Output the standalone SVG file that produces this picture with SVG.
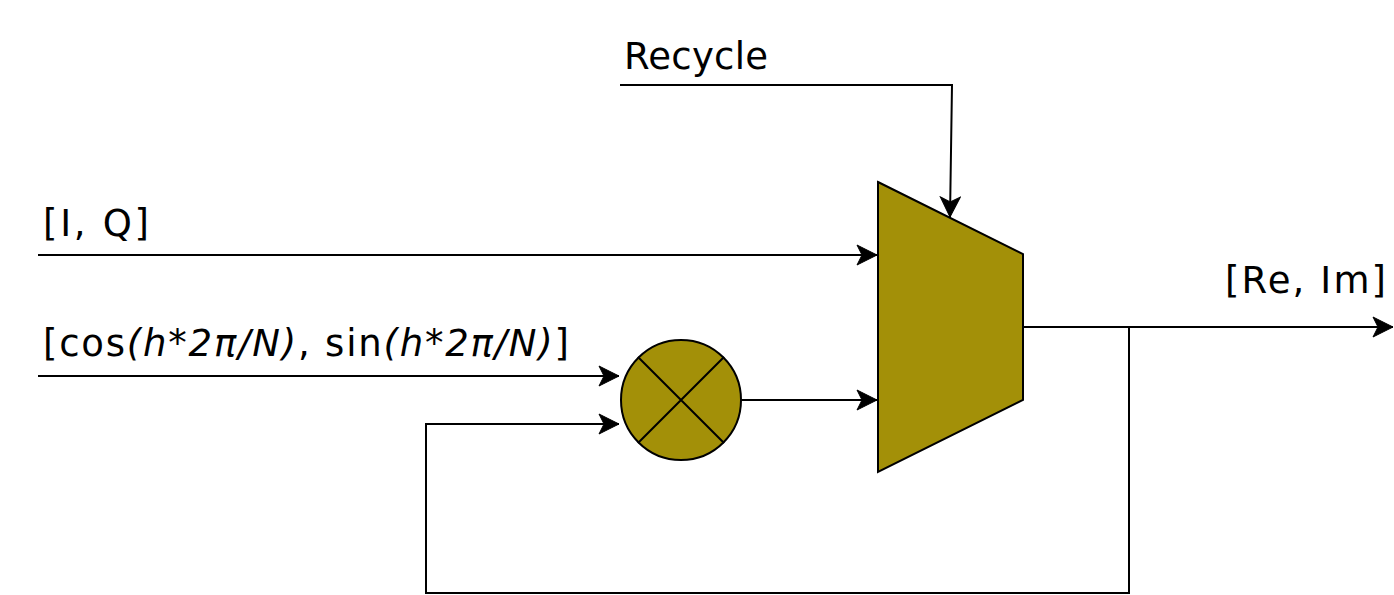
<svg xmlns="http://www.w3.org/2000/svg" width="1394" height="595" viewBox="0 0 1394 595">
<style>
.lbl{font-family:"DejaVu Sans",Verdana,sans-serif;font-size:37px;fill:#000}
.it{font-style:italic}
.wire{fill:none;stroke:#000;stroke-width:2}
.blk{fill:#a39008;stroke:#000;stroke-width:2}
</style>
<defs>
<marker id="arr" viewBox="0 0 22 22" refX="21" refY="11" markerWidth="22" markerHeight="22" markerUnits="userSpaceOnUse" orient="auto">
<path d="M1,1 L21,11 L1,21 L6,11 Z" fill="#000" stroke="#000" stroke-width="1"/>
</marker>
</defs>
<rect width="1394" height="595" fill="#fff"/>
<g id="connectors">
<path class="wire" d="M620,85 H952 L950,217" marker-end="url(#arr)"/>
<path class="wire" d="M38,255 H877" marker-end="url(#arr)"/>
<path class="wire" d="M38,376 H619" marker-end="url(#arr)"/>
<path class="wire" d="M741,400 H877" marker-end="url(#arr)"/>
<path class="wire" d="M1023,327 H1393" marker-end="url(#arr)"/>
<path class="wire" d="M1129,327 V593 H426 V424 H619" marker-end="url(#arr)"/>
</g>
<g id="mux">
<path class="blk" d="M878,182 L1023,254 V400 L878,472 Z"/>
</g>
<g id="multiplier">
<circle class="blk" cx="681" cy="400" r="60"/>
<path class="wire" d="M638,357 L724,443 M724,357 L638,443"/>
</g>
<g id="labels">
<text class="lbl" x="624" y="69" textLength="144" lengthAdjust="spacing">Recycle</text>
<text class="lbl" x="43" y="236" textLength="106" lengthAdjust="spacing">[I, Q]</text>
<text class="lbl" x="43" y="356" textLength="526" lengthAdjust="spacing">[cos<tspan class="it">(h*2π/N)</tspan>, sin<tspan class="it">(h*2π/N)</tspan>]</text>
<text class="lbl" x="1225" y="293" textLength="161" lengthAdjust="spacing">[Re, Im]</text>
</g>
</svg>
